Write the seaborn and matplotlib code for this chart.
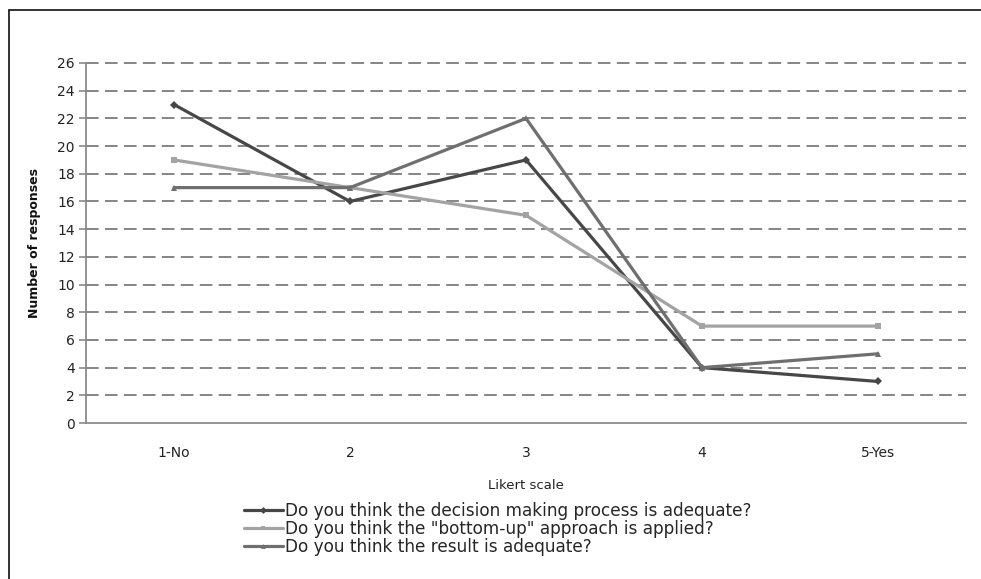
import pandas as pd
import matplotlib.pyplot as plt
import seaborn as sns
from matplotlib.lines import Line2D

categories = ["1-No", "2", "3", "4", "5-Yes"]
decision_process = [23, 16, 19, 4, 3]
bottom_up = [19, 17, 15, 7, 7]
result_adequate = [17, 17, 22, 4, 5]

series_names = [
    "Do you think the decision making process is adequate?",
    "Do you think the \"bottom-up\" approach is applied?",
    "Do you think the result is adequate?",
]
colors = ["#474747", "#a3a3a3", "#6f6f6f"]
markers = ["D", "s", "^"]


def main():
    rows = []
    for name, vals in zip(series_names, [decision_process, bottom_up, result_adequate]):
        for i, (cat, v) in enumerate(zip(categories, vals)):
            rows.append({"pos": i, "category": cat, "value": v, "series": name})
    df = pd.DataFrame(rows)

    sns.set_style("white")
    plt.rcParams["font.family"] = ["DejaVu Sans"]

    fig = plt.figure(figsize=(9.81, 5.79), dpi=100)
    ax = fig.add_axes([0.0877, 0.2694, 0.897, 0.6218])

    sns.lineplot(data=df, x="pos", y="value", hue="series", style="series",
                 hue_order=series_names, style_order=series_names,
                 palette=colors, markers=markers, dashes=False,
                 linewidth=2.3, markersize=4.5, markeredgewidth=0,
                 ax=ax, legend=False, zorder=3)

    ax.set_xlim(-0.5, 4.5)
    ax.set_ylim(0, 26)
    ax.set_yticks(range(0, 27, 2))
    ax.set_xticks(range(len(categories)))
    ax.set_xticklabels(categories)
    ax.yaxis.grid(True, linestyle=(0, (7, 3.5)), color="#7c7c7c", linewidth=1.3)
    ax.xaxis.grid(False)
    ax.set_axisbelow(True)
    for gl in ax.get_ygridlines():
        gl.set_clip_on(False)
    ax.get_ygridlines()[0].set_visible(False)

    for side in ["top", "right"]:
        ax.spines[side].set_visible(False)
    for side in ["left", "bottom"]:
        ax.spines[side].set_color("#8a8a8a")
        ax.spines[side].set_linewidth(1.3)

    ax.tick_params(axis="y", which="both", left=True, length=5, width=1.2,
                   color="#8a8a8a", labelsize=10, labelcolor="#222222", pad=3)
    ax.tick_params(axis="x", bottom=False, labelsize=10, labelcolor="#222222", pad=13)

    ax.set_xlabel("Likert scale", fontsize=9.5, color="#222222", labelpad=14)
    ax.set_ylabel("Number of responses", fontsize=9, color="#111111",
                  fontweight="bold", labelpad=12)

    handles = [Line2D([0], [0], color=c, marker=m, lw=2.3, markersize=3.5,
                      markeredgewidth=0)
               for c, m in zip(colors, markers)]
    fig.legend(handles, series_names, loc="upper left",
               bbox_to_anchor=(244 / 981, 1 - 502 / 579), frameon=False,
               fontsize=12.2, labelspacing=0.0, handlelength=2.3,
               handletextpad=0.1, borderaxespad=0, borderpad=0)

    # outer frame
    fig.add_artist(Line2D([9 / 981, 9 / 981], [0, 1 - 10 / 579], color="#222222", lw=1.3))
    fig.add_artist(Line2D([9 / 981, 1], [1 - 10 / 579, 1 - 10 / 579], color="#222222", lw=1.3))

    fig.savefig("out.png", dpi=100)
    plt.close(fig)


if __name__ == "__main__":
    main()
